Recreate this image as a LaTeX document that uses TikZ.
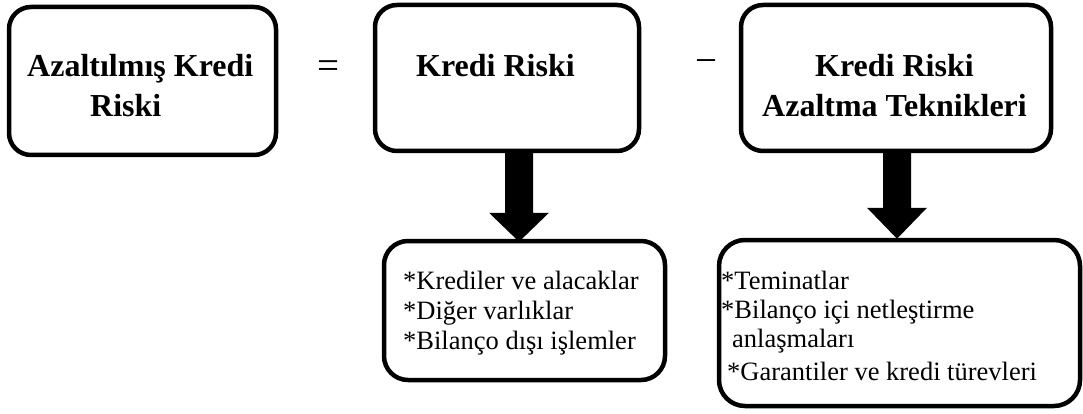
\documentclass[tikz,border=0pt]{standalone}
\usepackage{fontspec}
\setmainfont{Liberation Serif}
\usetikzlibrary{calc}
\begin{document}
\begin{tikzpicture}[x=1pt,y=-1pt,
  box/.style={draw, line width=4.5pt, rounded corners=22pt, inner sep=0pt},
  ttl/.style={font=\fontsize{32}{40}\selectfont\bfseries, inner sep=0pt, anchor=base west},
  itm/.style={font=\fontsize{26.5}{30}\selectfont, inner sep=0pt, anchor=base west},
  op/.style={font=\fontsize{39}{44}\selectfont, inner sep=0pt}]
\useasboundingbox (0,0) rectangle (1083,414);
% boxes
\node[box, minimum width=267pt, minimum height=148pt] (b1) at (142.5,81) {};
\node[box, minimum width=264pt, minimum height=146pt] (b2) at (507,78) {};
\node[box, minimum width=310pt, minimum height=146pt] (b3) at (896,78) {};
\node[box, rounded corners=24pt, minimum width=281pt, minimum height=139pt] (b4) at (524.5,310.5) {};
\node[box, rounded corners=26pt, minimum width=361pt, minimum height=166pt] (b5) at (899.5,323) {};
% titles
\node[ttl] (t1a) at (27,77) {Azaltılmış Kredi};
\node[ttl] (t1b) at (90,117) {Riski};
\node[ttl] (t2) at (416,77) {Kredi Riski};
\node[ttl] (t3a) at (815,77) {Kredi Riski};
\node[ttl] (t3b) at (762,117) {Azaltma Teknikleri};
% operators
\node[op] (eq) at (328,69.5) {=};
\node[op] (mn) at (706,67) {−};
% item lists
\node[itm] (l1) at (403,289) {*Krediler ve alacaklar};
\node[itm] (l2) at (403,319) {*Diğer varlıklar};
\node[itm] (l3) at (403,349) {*Bilanço dışı işlemler};
\node[itm] (m1) at (721,289) {*Teminatlar};
\node[itm] (m2) at (721,318) {*Bilanço içi netleştirme};
\node[itm] (m3) at (732,347) {anlaşmaları};
\node[itm] (m4) at (727,380) {*Garantiler ve kredi türevleri};
% block arrows
\path ([xshift=12pt,yshift=2pt]b2.south) coordinate (s1)
      ([xshift=-5.5pt,yshift=-3pt]b4.north) coordinate (e1);
\path ($(e1)+(0,-29)$) coordinate (h1);
\fill ($(s1)+(-14,0)$) -- ($(s1|-h1)+(-14,0)$) -- ($(h1)+(-30,0)$) -- (e1)
      -- ($(h1)+(30,0)$) -- ($(s1|-h1)+(14,0)$) -- ($(s1)+(14,0)$) -- cycle;
\path ([xshift=1pt,yshift=2pt]b3.south) coordinate (s2)
      ([xshift=-2.5pt,yshift=-1pt]b5.north) coordinate (e2);
\path ($(e2)+(0,-31)$) coordinate (h2);
\fill ($(s2)+(-14,0)$) -- ($(s2|-h2)+(-14,0)$) -- ($(h2)+(-30,0)$) -- (e2)
      -- ($(h2)+(30,0)$) -- ($(s2|-h2)+(14,0)$) -- ($(s2)+(14,0)$) -- cycle;
\end{tikzpicture}
\end{document}
